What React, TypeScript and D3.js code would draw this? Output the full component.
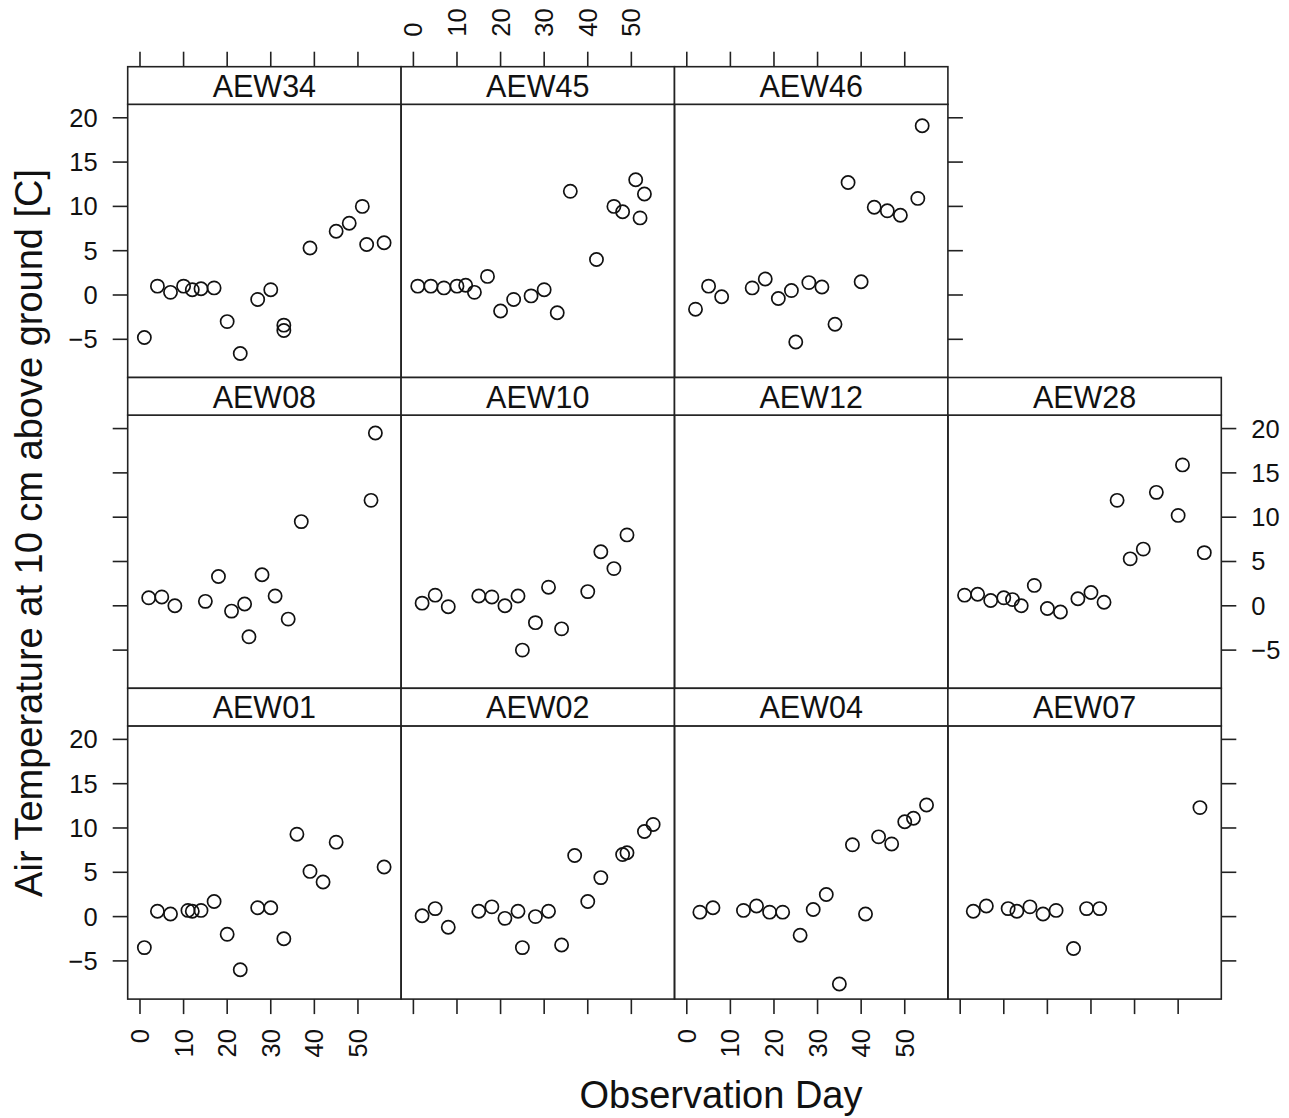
import React from 'react';
import * as d3 from 'd3';

// station readings: observation day and air temperature at 10 cm [C]
const aew34Day = [1, 4, 7, 10, 12, 14, 17, 20, 23, 27, 30, 33, 33, 39, 45, 48, 51, 52, 56];
const aew34Temp = [-4.8, 1.0, 0.3, 1.0, 0.6, 0.7, 0.8, -3.0, -6.6, -0.5, 0.6, -3.4, -4.0, 5.3, 7.2, 8.1, 10.0, 5.7, 5.9];

const aew45Day = [1, 4, 7, 10, 12, 14, 17, 20, 23, 27, 30, 33, 36, 42, 46, 48, 51, 52, 53];
const aew45Temp = [1.0, 1.0, 0.8, 1.0, 1.1, 0.3, 2.1, -1.8, -0.5, -0.1, 0.6, -2.0, 11.7, 4.0, 10.0, 9.4, 13.0, 8.7, 11.4];

const aew46Day = [2, 5, 8, 15, 18, 21, 24, 25, 28, 31, 34, 37, 40, 43, 46, 49, 53, 54];
const aew46Temp = [-1.6, 1.0, -0.2, 0.8, 1.8, -0.4, 0.5, -5.3, 1.4, 0.9, -3.3, 12.7, 1.5, 9.9, 9.5, 9.0, 10.9, 19.1];

const aew08Day = [2, 5, 8, 15, 18, 21, 24, 25, 28, 31, 34, 37, 53, 54];
const aew08Temp = [0.9, 1.0, 0.0, 0.5, 3.3, -0.6, 0.2, -3.5, 3.5, 1.1, -1.5, 9.5, 11.9, 19.5];

const aew10Day = [2, 5, 8, 15, 18, 21, 24, 25, 28, 31, 34, 40, 43, 46, 49];
const aew10Temp = [0.3, 1.2, -0.1, 1.1, 1.0, 0.0, 1.1, -5.0, -1.9, 2.1, -2.6, 1.6, 6.1, 4.2, 8.0];

const aew12Day: number[] = [];
const aew12Temp: number[] = [];

const aew28Day = [1, 4, 7, 10, 12, 14, 17, 20, 23, 27, 30, 33, 36, 39, 42, 45, 50, 51, 56];
const aew28Temp = [1.2, 1.3, 0.6, 0.9, 0.7, 0.0, 2.3, -0.3, -0.7, 0.8, 1.5, 0.4, 11.9, 5.3, 6.4, 12.8, 10.2, 15.9, 6.0];

const aew01Day = [1, 4, 7, 11, 12, 14, 17, 20, 23, 27, 30, 33, 36, 39, 42, 45, 56];
const aew01Temp = [-3.5, 0.6, 0.3, 0.7, 0.6, 0.7, 1.7, -2.0, -6.0, 1.0, 1.0, -2.5, 9.3, 5.1, 3.9, 8.4, 5.6];

const aew02Day = [2, 5, 8, 15, 18, 21, 24, 25, 28, 31, 34, 37, 40, 43, 48, 49, 53, 55];
const aew02Temp = [0.1, 0.9, -1.2, 0.6, 1.1, -0.2, 0.6, -3.5, 0.0, 0.6, -3.2, 6.9, 1.7, 4.4, 7.0, 7.2, 9.6, 10.4];

const aew04Day = [3, 6, 13, 16, 19, 22, 26, 29, 32, 35, 38, 41, 44, 47, 50, 52, 55];
const aew04Temp = [0.5, 1.0, 0.7, 1.2, 0.5, 0.5, -2.1, 0.8, 2.5, -7.6, 8.1, 0.3, 9.0, 8.2, 10.7, 11.1, 12.6];

const aew07Day = [3, 6, 11, 13, 16, 19, 22, 26, 29, 32, 55];
const aew07Temp = [0.6, 1.2, 0.9, 0.6, 1.1, 0.3, 0.7, -3.6, 0.9, 0.9, 12.3];

const xTicks = [0, 10, 20, 30, 40, 50];
const yTicks = [-5, 0, 5, 10, 15, 20];

const panels = [
  { name: 'AEW34', row: 0, col: 0, day: aew34Day, temp: aew34Temp },
  { name: 'AEW45', row: 0, col: 1, day: aew45Day, temp: aew45Temp },
  { name: 'AEW46', row: 0, col: 2, day: aew46Day, temp: aew46Temp },
  { name: 'AEW08', row: 1, col: 0, day: aew08Day, temp: aew08Temp },
  { name: 'AEW10', row: 1, col: 1, day: aew10Day, temp: aew10Temp },
  { name: 'AEW12', row: 1, col: 2, day: aew12Day, temp: aew12Temp },
  { name: 'AEW28', row: 1, col: 3, day: aew28Day, temp: aew28Temp },
  { name: 'AEW01', row: 2, col: 0, day: aew01Day, temp: aew01Temp },
  { name: 'AEW02', row: 2, col: 1, day: aew02Day, temp: aew02Temp },
  { name: 'AEW04', row: 2, col: 2, day: aew04Day, temp: aew04Temp },
  { name: 'AEW07', row: 2, col: 3, day: aew07Day, temp: aew07Temp },
];

const width = 1289;
const height = 1118;
const left = 127.7;
const colW = 273.4;
const top = 66.7;
const stripH = 37.6;
const rowH = 310.8;
const panelH = rowH - stripH;
const tickLen = 15;
const font = '"Liberation Sans", Arial, Helvetica, sans-serif';
const tickSize = 25.5;

const x = d3.scaleLinear().domain([-2.82, 59.9]).range([0, colW]);
const y = d3.scaleLinear().domain([-9.31, 21.52]).range([panelH, 0]);

const App = () => {
  const colX = (c: number) => left + c * colW;
  const panelTop = (r: number) => top + r * rowH + stripH;
  const bottomY = panelTop(2) + panelH;

  const lines: JSX.Element[] = [];
  const labels: JSX.Element[] = [];

  // left axis on every row
  [0, 1, 2].forEach((r) => {
    yTicks.forEach((t) => {
      const ty = panelTop(r) + y(t);
      lines.push(<line key={`l${r}${t}`} x1={left - tickLen} x2={left} y1={ty} y2={ty} />);
      if (r !== 1)
        labels.push(
          <text key={`ll${r}${t}`} x={left - tickLen - 15} y={ty} textAnchor="end" dominantBaseline="central">
            {t < 0 ? '\u2212' + Math.abs(t) : t}
          </text>
        );
    });
  });

  // right axis: top row ends at column 3, others at column 4
  [0, 1, 2].forEach((r) => {
    const rx = r === 0 ? colX(3) : colX(4);
    yTicks.forEach((t) => {
      const ty = panelTop(r) + y(t);
      lines.push(<line key={`r${r}${t}`} x1={rx} x2={rx + tickLen} y1={ty} y2={ty} />);
      if (r === 1)
        labels.push(
          <text key={`rl${r}${t}`} x={rx + tickLen + 15} y={ty} dominantBaseline="central">
            {t < 0 ? '\u2212' + Math.abs(t) : t}
          </text>
        );
    });
  });

  // top axis on the top row
  [0, 1, 2].forEach((c) => {
    xTicks.forEach((t) => {
      const tx = colX(c) + x(t);
      lines.push(<line key={`t${c}${t}`} x1={tx} x2={tx} y1={top - tickLen} y2={top} />);
      if (c === 1)
        labels.push(
          <text key={`tl${c}${t}`} transform={`translate(${tx},${top - tickLen - 15}) rotate(-90)`} dominantBaseline="central">
            {t}
          </text>
        );
    });
  });

  // bottom axis
  [0, 1, 2, 3].forEach((c) => {
    xTicks.forEach((t) => {
      const tx = colX(c) + x(t);
      lines.push(<line key={`b${c}${t}`} x1={tx} x2={tx} y1={bottomY} y2={bottomY + tickLen} />);
      if (c === 0 || c === 2)
        labels.push(
          <text key={`bl${c}${t}`} transform={`translate(${tx},${bottomY + tickLen + 15}) rotate(-90)`} textAnchor="end" dominantBaseline="central">
            {t}
          </text>
        );
    });
  });

  return (
    <svg width={width} height={height} style={{ position: 'absolute', left: 0, top: 0, background: '#fff' }} fontFamily={font}>
      <g stroke="#222" strokeWidth={1.6}>{lines}</g>
      <g fontSize={tickSize} fill="#111">{labels}</g>
      {panels.map((p) => {
        const px = colX(p.col);
        const sy = top + p.row * rowH;
        const py = sy + stripH;
        return (
          <g key={p.name}>
            <g transform={`translate(${px},${py})`}>
              {p.day.map((d, i) => (
                <circle key={i} cx={x(d)} cy={y(p.temp[i])} r={6.6} fill="none" stroke="#111" strokeWidth={1.7} />
              ))}
              <rect width={colW} height={panelH} fill="none" stroke="#222" strokeWidth={1.6} />
            </g>
            <rect x={px} y={sy} width={colW} height={stripH} fill="#fff" stroke="#222" strokeWidth={1.6} />
            <text x={px + colW / 2} y={sy + 30} textAnchor="middle" fontSize={30.5} fill="#111">
              {p.name}
            </text>
          </g>
        );
      })}
      <text transform={`translate(42,${(top + bottomY) / 2}) rotate(-90)`} textAnchor="middle" fontSize={38} fill="#111">
        Air Temperature at 10 cm above ground [C]
      </text>
      <text x={721} y={1108} textAnchor="middle" fontSize={38} fill="#111">
        Observation Day
      </text>
    </svg>
  );
};

export default App;
